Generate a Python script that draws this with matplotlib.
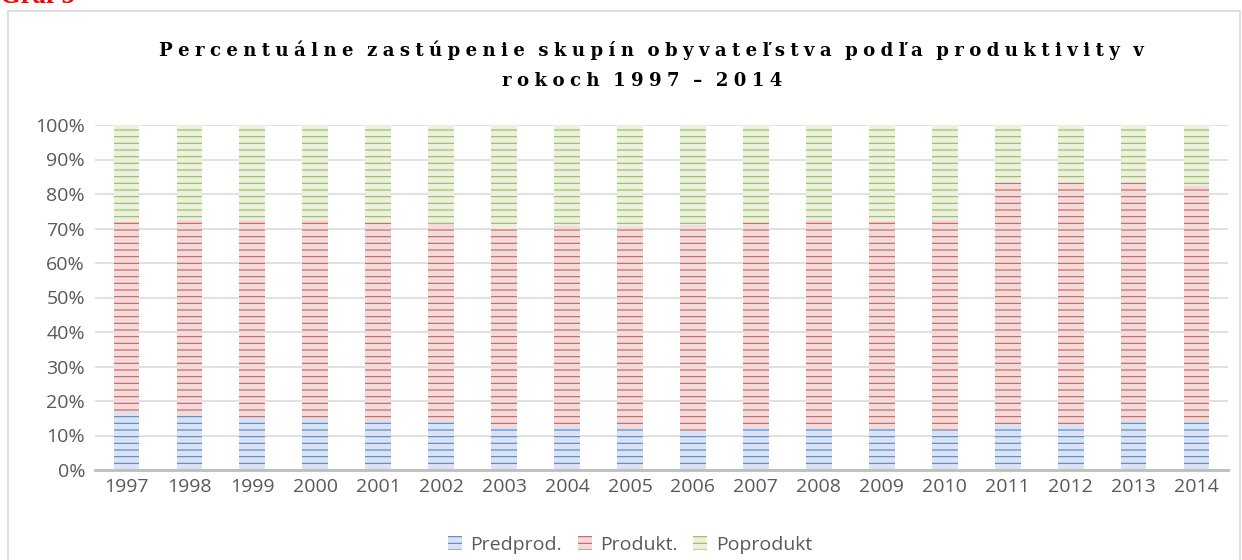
import matplotlib
matplotlib.use("Agg")
import matplotlib.pyplot as plt
import numpy as np
from matplotlib.patches import Rectangle

# values (percent of population)
years = [str(y) for y in range(1997, 2015)]
predprod = [16.4, 15.9, 15.3, 15.0, 14.1, 13.9, 12.3, 12.4, 11.9, 11.3,
            12.3, 11.8, 11.8, 11.6, 13.2, 13.2, 14.2, 14.0]
# top of the "Produkt." segment (cumulative)
produkt_top = [72.0, 72.6, 72.6, 72.6, 71.6, 71.4, 69.9, 70.8, 70.3, 71.0,
               71.6, 72.6, 72.3, 72.6, 83.2, 83.2, 83.2, 82.4]
series_names = ["Predprod.", "Produkt.", "Poprodukt"]
title_lines = ["Percentuálne zastúpenie skupín obyvateľstva podľa produktivity v",
               "rokoch 1997 – 2014"]

produkt = [t - p for t, p in zip(produkt_top, predprod)]
poprodukt = [100 - t for t in produkt_top]

DPI = 80
plt.rcParams['hatch.linewidth'] = 1.0
fig = plt.figure(figsize=(1242 / DPI, 560 / DPI), dpi=DPI)
ax = fig.add_axes([95 / 1242, 90 / 560, (1228 - 95) / 1242, (470 - 125) / 560])

fills = ['#DAE3F3', '#F2DCDB', '#EBF1DE']
lines = ['#5585C6', '#C9605D', '#9BBB59']
x = np.arange(len(years))
bottom = np.zeros(len(years))
for name, vals, fc, lc in zip(series_names, [predprod, produkt, poprodukt], fills, lines):
    ax.bar(x, vals, 0.41, bottom=bottom, color=fc, edgecolor=lc, hatch='--',
           linewidth=0, label=name, zorder=2)
    bottom += np.array(vals)

tick_font = dict(family='Open Sans', size=17.5, color='#595959')
ax.set_xlim(-0.5, len(years) - 0.5)
ax.set_ylim(0, 100)
ax.set_yticks(range(0, 101, 10))
ax.set_yticklabels([f"{v}%" for v in range(0, 101, 10)], **tick_font)
ax.set_xticks(x)
ax.set_xticklabels(years, **tick_font)
ax.tick_params(axis='both', length=0)
ax.tick_params(axis='y', pad=9)
ax.tick_params(axis='x', pad=7)
ax.grid(axis='y', color='#D9D9D9', linewidth=1.4, zorder=0)
ax.set_axisbelow(True)
for s in ['top', 'right', 'left']:
    ax.spines[s].set_visible(False)
ax.spines['bottom'].set_color('#BFBFBF')
ax.spines['bottom'].set_linewidth(2.6)
ax.spines['bottom'].set_zorder(3)

# title with wide letter spacing (thin + hair space between letters)
def spaced(s):
    return '\u2009 \u2009'.join('\u2009\u200a'.join(w) for w in s.split(' '))

title_font = dict(family='DejaVu Serif', weight='bold', size=16.3)
fig.text(651 / 1242, 1 - 56.5 / 560, spaced(title_lines[0]), ha='center', va='baseline',
         **title_font)
fig.text(642 / 1242, 1 - 86 / 560, spaced(title_lines[1]), ha='center', va='baseline',
         **title_font)

fig.text(0, 1 - 3 / 560, "Graf 5", ha='left', va='baseline', color='red',
         family='Liberation Serif', weight='bold', size=24)

fig.patches.append(Rectangle((8 / 1242, -0.1), (1240 - 8) / 1242, 1.1 - 11 / 560,
                             transform=fig.transFigure, fill=False,
                             edgecolor='#D9D9D9', linewidth=1.5))

leg = fig.legend(loc='center', bbox_to_anchor=(630 / 1242, 1 - 545 / 560), ncol=3,
                 frameon=False, prop=dict(family='Open Sans', size=17.5),
                 handlelength=0.72, handleheight=0.72, handletextpad=0.42,
                 columnspacing=0.82)
for t in leg.get_texts():
    t.set_color('#595959')

fig.savefig('out.png', dpi=DPI)
